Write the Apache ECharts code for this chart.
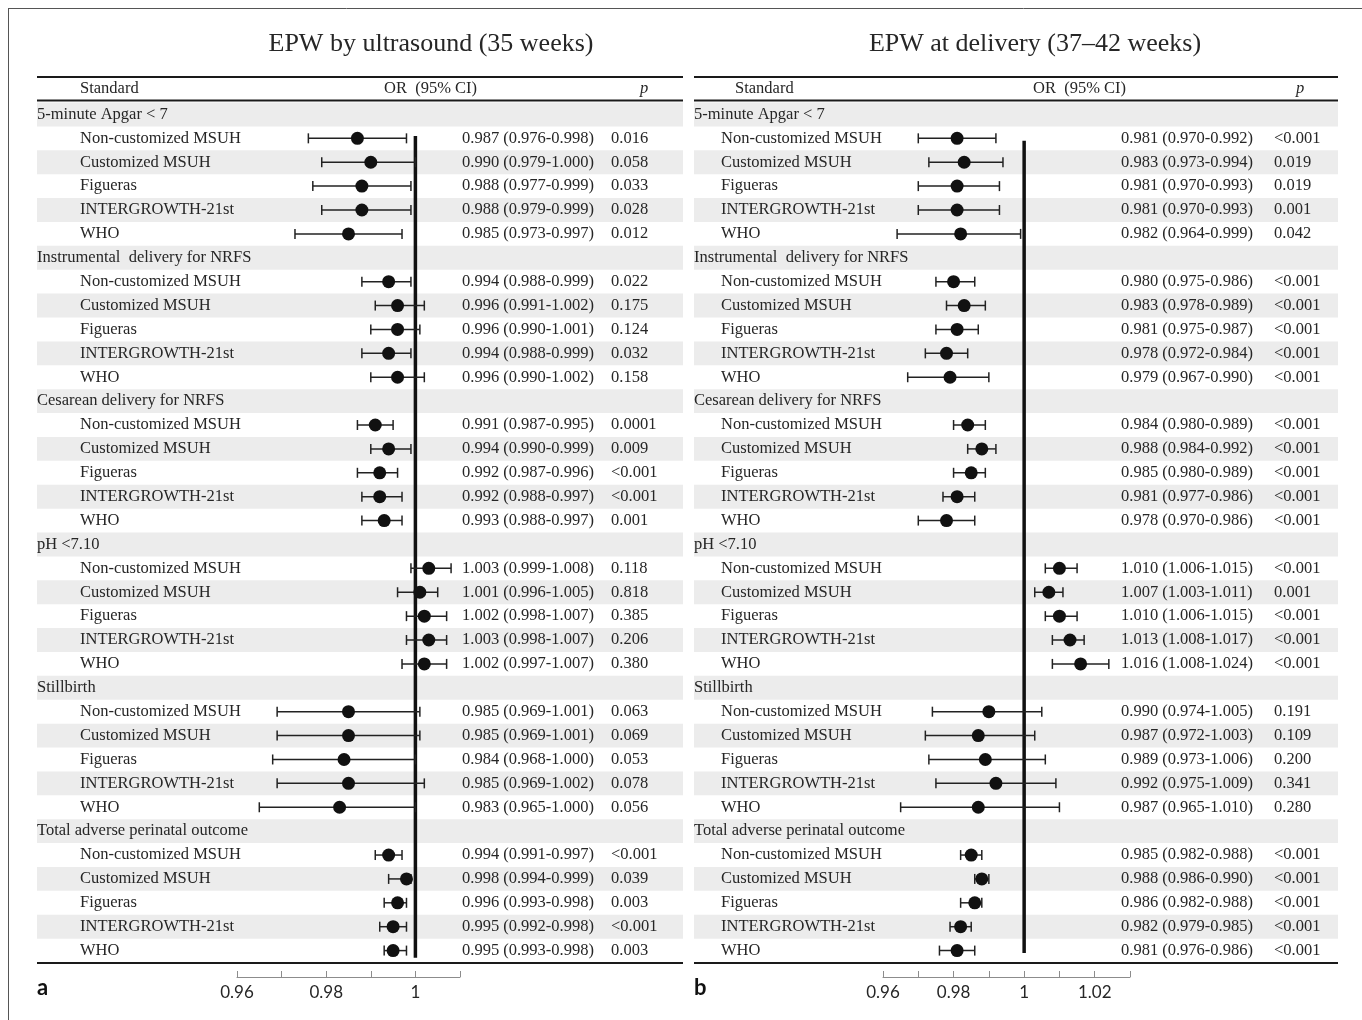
<!DOCTYPE html>
<html>
<head>
<meta charset="utf-8">
<script src="https://cdn.jsdelivr.net/npm/echarts@6/dist/echarts.min.js"></script>
<style>
  html, body { margin: 0; padding: 0; background: #fff; }
  #chart { width: 1362px; height: 1020px; }
</style>
</head>
<body>
<div id="chart"></div>
<script>
// Outcome groups and growth standards (rows of both panels)
const groups = [
  '5-minute Apgar < 7',
  'Instrumental  delivery for NRFS',
  'Cesarean delivery for NRFS',
  'pH <7.10',
  'Stillbirth',
  'Total adverse perinatal outcome'
];
const standards = ['Non-customized MSUH', 'Customized MSUH', 'Figueras', 'INTERGROWTH-21st', 'WHO'];

// Panel a: EPW by ultrasound (35 weeks)
const orA = [0.987, 0.990, 0.988, 0.988, 0.985,
             0.994, 0.996, 0.996, 0.994, 0.996,
             0.991, 0.994, 0.992, 0.992, 0.993,
             1.003, 1.001, 1.002, 1.003, 1.002,
             0.985, 0.985, 0.984, 0.985, 0.983,
             0.994, 0.998, 0.996, 0.995, 0.995];
const loA = [0.976, 0.979, 0.977, 0.979, 0.973,
             0.988, 0.991, 0.990, 0.988, 0.990,
             0.987, 0.990, 0.987, 0.988, 0.988,
             0.999, 0.996, 0.998, 0.998, 0.997,
             0.969, 0.969, 0.968, 0.969, 0.965,
             0.991, 0.994, 0.993, 0.992, 0.993];
const hiA = [0.998, 1.000, 0.999, 0.999, 0.997,
             0.999, 1.002, 1.001, 0.999, 1.002,
             0.995, 0.999, 0.996, 0.997, 0.997,
             1.008, 1.005, 1.007, 1.007, 1.007,
             1.001, 1.001, 1.000, 1.002, 1.000,
             0.997, 0.999, 0.998, 0.998, 0.998];
const pA = ['0.016', '0.058', '0.033', '0.028', '0.012',
            '0.022', '0.175', '0.124', '0.032', '0.158',
            '0.0001', '0.009', '<0.001', '<0.001', '0.001',
            '0.118', '0.818', '0.385', '0.206', '0.380',
            '0.063', '0.069', '0.053', '0.078', '0.056',
            '<0.001', '0.039', '0.003', '<0.001', '0.003'];

// Panel b: EPW at delivery (37–42 weeks)
const orB = [0.981, 0.983, 0.981, 0.981, 0.982,
             0.980, 0.983, 0.981, 0.978, 0.979,
             0.984, 0.988, 0.985, 0.981, 0.978,
             1.010, 1.007, 1.010, 1.013, 1.016,
             0.990, 0.987, 0.989, 0.992, 0.987,
             0.985, 0.988, 0.986, 0.982, 0.981];
const loB = [0.970, 0.973, 0.970, 0.970, 0.964,
             0.975, 0.978, 0.975, 0.972, 0.967,
             0.980, 0.984, 0.980, 0.977, 0.970,
             1.006, 1.003, 1.006, 1.008, 1.008,
             0.974, 0.972, 0.973, 0.975, 0.965,
             0.982, 0.986, 0.982, 0.979, 0.976];
const hiB = [0.992, 0.994, 0.993, 0.993, 0.999,
             0.986, 0.989, 0.987, 0.984, 0.990,
             0.989, 0.992, 0.989, 0.986, 0.986,
             1.015, 1.011, 1.015, 1.017, 1.024,
             1.005, 1.003, 1.006, 1.009, 1.010,
             0.988, 0.990, 0.988, 0.985, 0.986];
const pB = ['<0.001', '0.019', '0.019', '0.001', '0.042',
            '<0.001', '<0.001', '<0.001', '<0.001', '<0.001',
            '<0.001', '<0.001', '<0.001', '<0.001', '<0.001',
            '<0.001', '0.001', '<0.001', '<0.001', '<0.001',
            '0.191', '0.109', '0.200', '0.341', '0.280',
            '<0.001', '<0.001', '<0.001', '<0.001', '<0.001'];

// Axis ticks
const tickMinA = 0.96, tickMaxA = 1.01;
const tickMinB = 0.96, tickMaxB = 1.03;
const tickStep = 0.01;
const refValue = 1;

const SERIF = '"Liberation Serif", "Times New Roman", serif';
const SANS = 'Lato, "Open Sans", sans-serif';
const TEXT = '#262626';
const FS = 16.5;

const ROWS_PER_GROUP = standards.length + 1;
const N_ROWS = groups.length * ROWS_PER_GROUP;

// Table layout of each panel
const panels = [
  { title: 'EPW by ultrasound (35 weeks)', letter: 'a',
    or: orA, lo: loA, hi: hiA, p: pA, min: tickMinA, max: tickMaxA,
    gridLeft: 237, gridWidth: 223,
    tableLeft: 37, tableRight: 683, subX: 80, orX: 462, pX: 611,
    headStdX: 80, headOrX: 384, headPX: 640, titleX: 431, refRows: [0.9, 35.3] },
  { title: 'EPW at delivery (37\u201342 weeks)', letter: 'b',
    or: orB, lo: loB, hi: hiB, p: pB, min: tickMinB, max: tickMaxB,
    gridLeft: 883, gridWidth: 247,
    tableLeft: 694, tableRight: 1338, subX: 721, orX: 1121, pX: 1274,
    headStdX: 735, headOrX: 1033, headPX: 1296, titleX: 1035, refRows: [1.1, 35.1] }
];

const GRID_TOP = 102.5;
const ROW_H = 23.89;
const GRID_H = ROW_H * N_ROWS;

// Row table built from the arrays above
function buildRows(panel) {
  const rows = [];
  groups.forEach((g, gi) => {
    rows.push({ row: gi * ROWS_PER_GROUP, header: true, label: g });
    standards.forEach((s, si) => {
      const k = gi * standards.length + si;
      rows.push({
        row: gi * ROWS_PER_GROUP + si + 1, header: false, label: s,
        or: panel.or[k], lo: panel.lo[k], hi: panel.hi[k], p: panel.p[k]
      });
    });
  });
  return rows;
}

const chart = echarts.init(document.getElementById('chart'));

const grids = [], xAxes = [], yAxes = [], series = [], graphics = [];

panels.forEach((panel, pi) => {
  const rows = buildRows(panel);
  const dataRows = rows.filter(r => !r.header);

  grids.push({ left: panel.gridLeft, width: panel.gridWidth, top: GRID_TOP, height: GRID_H });
  xAxes.push({
    type: 'value', gridIndex: pi, min: panel.min, max: panel.max, interval: tickStep,
    position: 'bottom', offset: 977 - (GRID_TOP + GRID_H),
    z: 10,
    splitLine: { show: false },
    axisLine: { show: true, onZero: false, lineStyle: { color: '#8c8c8c', width: 1 } },
    axisTick: { show: true, inside: true, length: 6, lineStyle: { color: '#8c8c8c', width: 1 } },
    axisLabel: {
      color: TEXT, fontFamily: SANS, fontSize: 17, margin: 7,
      formatter: v => {
        const hundredths = Math.round(v * 100);
        if (hundredths % 2 !== 0) return '';
        return String(hundredths / 100);
      }
    }
  });
  yAxes.push({ type: 'value', gridIndex: pi, min: -0.5, max: N_ROWS - 0.5, inverse: true, show: false });

  // alternating row shading
  series.push({
    type: 'custom', xAxisIndex: pi, yAxisIndex: pi, silent: true, z: 1,
    data: rows.filter(r => r.row % 2 === 0).map(r => [panel.min, r.row]),
    renderItem: (params, api) => {
      const c = api.coord([api.value(0), api.value(1)]);
      const h = api.size([0, 1])[1];
      return { type: 'rect',
        shape: { x: panel.tableLeft, y: c[1] - h / 2, width: panel.tableRight - panel.tableLeft, height: h },
        style: { fill: '#ececec' } };
    }
  });

  // table text
  series.push({
    type: 'custom', xAxisIndex: pi, yAxisIndex: pi, silent: true, z: 3,
    data: rows.map(r => [panel.min, r.row]),
    renderItem: (params, api) => {
      const r = rows[params.dataIndex];
      const y = api.coord([api.value(0), api.value(1)])[1];
      const font = { fontFamily: SERIF, fontSize: FS, fill: TEXT, verticalAlign: 'middle', align: 'left' };
      if (r.header) {
        return { type: 'text', style: Object.assign({ x: panel.tableLeft, y: y, text: r.label }, font) };
      }
      const orText = r.or.toFixed(3) + ' (' + r.lo.toFixed(3) + '-' + r.hi.toFixed(3) + ')';
      return { type: 'group', children: [
        { type: 'text', style: Object.assign({ x: panel.subX, y: y, text: r.label }, font) },
        { type: 'text', style: Object.assign({ x: panel.orX, y: y, text: orText }, font) },
        { type: 'text', style: Object.assign({ x: panel.pX, y: y, text: r.p }, font) }
      ] };
    }
  });

  // reference line at OR = 1
  series.push({
    type: 'line', xAxisIndex: pi, yAxisIndex: pi, silent: true, z: 4,
    symbol: 'none',
    data: panel.refRows.map(rw => [refValue, rw]),
    lineStyle: { color: '#111', width: 3.5 }
  });

  // confidence intervals
  series.push({
    type: 'custom', xAxisIndex: pi, yAxisIndex: pi, silent: true, z: 5,
    encode: { x: [1, 2], y: 0 },
    data: dataRows.map(r => [r.row, r.lo, r.hi]),
    renderItem: (params, api) => {
      const row = api.value(0);
      const a = api.coord([api.value(1), row]);
      const b = api.coord([api.value(2), row]);
      const cap = 5;
      const st = { stroke: '#222', lineWidth: 1.5 };
      return { type: 'group', children: [
        { type: 'line', shape: { x1: a[0], y1: a[1], x2: b[0], y2: b[1] }, style: st },
        { type: 'line', shape: { x1: a[0], y1: a[1] - cap, x2: a[0], y2: a[1] + cap }, style: st },
        { type: 'line', shape: { x1: b[0], y1: b[1] - cap, x2: b[0], y2: b[1] + cap }, style: st }
      ] };
    }
  });

  // point estimates
  series.push({
    type: 'scatter', xAxisIndex: pi, yAxisIndex: pi, silent: true, z: 6,
    symbol: 'circle', symbolSize: 13,
    itemStyle: { color: '#111', opacity: 1 },
    data: dataRows.map(r => [r.or, r.row])
  });

  // titles, headers and rules
  const rule = { stroke: '#1a1a1a', lineWidth: 2 };
  graphics.push(
    { type: 'text', x: panel.titleX, y: 44, style: { text: panel.title, fontFamily: SERIF, fontSize: 26, fill: TEXT, align: 'center', verticalAlign: 'middle' } },
    { type: 'line', shape: { x1: panel.tableLeft, y1: 77, x2: panel.tableRight, y2: 77 }, style: rule },
    { type: 'line', shape: { x1: panel.tableLeft, y1: 100.5, x2: panel.tableRight, y2: 100.5 }, style: rule },
    { type: 'line', shape: { x1: panel.tableLeft, y1: 963, x2: panel.tableRight, y2: 963 }, style: rule },
    { type: 'text', x: panel.headStdX, y: 89, style: { text: 'Standard', fontFamily: SERIF, fontSize: FS, fill: TEXT, verticalAlign: 'middle' } },
    { type: 'text', x: panel.headOrX, y: 89, style: { text: 'OR  (95% CI)', fontFamily: SERIF, fontSize: FS, fill: TEXT, verticalAlign: 'middle' } },
    { type: 'text', x: panel.headPX, y: 89, style: { text: 'p', fontFamily: SERIF, fontStyle: 'italic', fontSize: FS, fill: TEXT, verticalAlign: 'middle' } },
    { type: 'text', x: panel.tableLeft, y: 988, style: { text: panel.letter, fontFamily: SANS, fontWeight: 'bold', fontSize: 22, fill: '#111', verticalAlign: 'middle' } }
  );
});

// figure frame
graphics.push(
  { type: 'line', shape: { x1: 8, y1: 8.5, x2: 1362, y2: 8.5 }, style: { stroke: '#555', lineWidth: 1 } },
  { type: 'line', shape: { x1: 8.5, y1: 8, x2: 8.5, y2: 1020 }, style: { stroke: '#555', lineWidth: 1 } }
);

chart.setOption({
  animation: false,
  backgroundColor: '#fff',
  grid: grids,
  xAxis: xAxes,
  yAxis: yAxes,
  series: series,
  graphic: { elements: graphics }
});
</script>
</body>
</html>
